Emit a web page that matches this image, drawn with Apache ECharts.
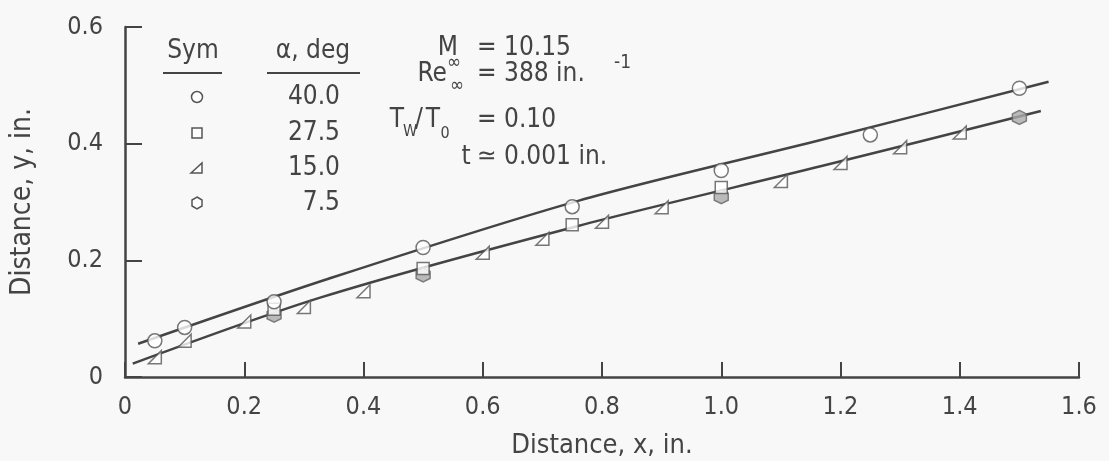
<!DOCTYPE html>
<html><head><meta charset="utf-8">
<script src="https://cdn.jsdelivr.net/npm/echarts@6/dist/echarts.min.js"></script>
<style>html,body{margin:0;padding:0;background:#f8f8f8}#c{width:1109px;height:461px}</style>
</head><body><div id="c"></div>
<script>
// ---- data ----
const circleX = [0.05, 0.1, 0.25, 0.5, 0.75, 1.0, 1.25, 1.5];
const circleY = [0.062, 0.085, 0.129, 0.222, 0.292, 0.354, 0.415, 0.495];
const squareX = [0.25, 0.5, 0.75, 1.0];
const squareY = [0.116, 0.186, 0.261, 0.325];
const triX = [0.05, 0.1, 0.2, 0.3, 0.4, 0.6, 0.7, 0.8, 0.9, 1.1, 1.2, 1.3, 1.4];
const triY = [0.034, 0.062, 0.095, 0.12, 0.147, 0.213, 0.237, 0.266, 0.291, 0.336, 0.367, 0.394, 0.419];
const hexX = [0.25, 0.5, 1.0, 1.5];
const hexY = [0.106, 0.175, 0.309, 0.445];
const upperX = [0.022, 0.34, 0.76, 1.17, 1.549];
const upperY = [0.057, 0.168, 0.302, 0.407, 0.506];
const lowerX = [0.013, 0.33, 0.76, 1.17, 1.536];
const lowerY = [0.023, 0.137, 0.259, 0.362, 0.456];
const alphaLabels = ['40.0', '27.5', '15.0', '7.5'];

const zip = (a, b) => a.map((v, i) => [v, b[i]]);
const FONT = '"DejaVu Sans Condensed","Liberation Sans Narrow","DejaVu Sans",sans-serif';
const INK = '#444';
const TRI = 'path://M0,10 L10,1 L10,10 Z';
const HEX = 'path://M5,0 L9.33,2.5 L9.33,7.5 L5,10 L0.67,7.5 L0.67,2.5 Z';
const fmt = v => v === 0 ? '0' : v.toFixed(1);

const chart = echarts.init(document.getElementById('c'));
const txt = (x, y, s, size, align) => ({
  type: 'text', x: x, y: y, z: 10,
  style: { text: s, font: size + 'px ' + FONT, fill: INK, textAlign: align || 'left', textVerticalAlign: 'middle' }
});

const legRows = [97, 133, 168, 203];
const symStyle = { fill: '#fff', stroke: '#555', lineWidth: 1.5 };
const graphics = [
  txt(193, 51, 'Sym', 26, 'center'),
  { type: 'line', shape: { x1: 163, y1: 73, x2: 222, y2: 73 }, style: { stroke: INK, lineWidth: 2 } },
  txt(313, 51, 'α, deg', 26, 'center'),
  { type: 'line', shape: { x1: 267, y1: 73, x2: 360, y2: 73 }, style: { stroke: INK, lineWidth: 2 } },
  { type: 'circle', shape: { cx: 197, cy: legRows[0], r: 5.5 }, style: symStyle },
  { type: 'rect', shape: { x: 192, y: legRows[1] - 5, width: 10, height: 10 }, style: symStyle },
  { type: 'polygon', shape: { points: [[191, legRows[2] + 5], [202, legRows[2] - 5], [202, legRows[2] + 5]] }, style: symStyle },
  { type: 'polygon', shape: { points: [[197, legRows[3] - 6], [202, legRows[3] - 3], [202, legRows[3] + 3], [197, legRows[3] + 6], [192, legRows[3] + 3], [192, legRows[3] - 3]] }, style: symStyle },
  // right-hand conditions
  txt(458, 48, 'M', 26, 'right'),
  txt(454, 63, '∞', 19, 'center'),
  txt(477, 48, '= 10.15', 26, 'left'),
  txt(447, 74, 'Re', 26, 'right'),
  txt(457, 86, '∞', 19, 'center'),
  txt(477, 74, '= 388 in.', 26, 'left'),
  txt(614, 63, '-1', 19, 'left'),
  txt(404, 120, 'T', 26, 'right'),
  txt(410, 132, 'W', 16, 'center'),
  txt(419, 120, '/', 26, 'center'),
  txt(440, 120, 'T', 26, 'right'),
  txt(445, 134, '0', 16, 'center'),
  txt(477, 120, '= 0.10', 26, 'left'),
  txt(466, 157, 't', 26, 'center'),
  txt(477, 157, '≃ 0.001 in.', 26, 'left')
];
alphaLabels.forEach((s, i) => graphics.push(txt(340, legRows[i], s, 26, 'right')));

chart.setOption({
  backgroundColor: '#f8f8f8',
  animation: false,
  grid: { left: 125, right: 30, top: 27, bottom: 84, outerBoundsMode: 'none', containLabel: false },
  xAxis: {
    type: 'value', min: 0, max: 1.6, interval: 0.2,
    name: 'Distance, x, in.', nameLocation: 'middle', nameGap: 55,
    nameTextStyle: { fontFamily: FONT, fontSize: 27, color: INK },
    axisLine: { lineStyle: { color: INK, width: 2.5 } },
    axisTick: { inside: true, length: 15, lineStyle: { color: INK, width: 2 } },
    axisLabel: { formatter: fmt, fontFamily: FONT, fontSize: 25, color: INK, margin: 18 },
    splitLine: { show: false }
  },
  yAxis: {
    type: 'value', min: 0, max: 0.6, interval: 0.2,
    name: 'Distance, y, in.', nameLocation: 'middle', nameGap: 88, nameRotate: 90,
    nameTextStyle: { fontFamily: FONT, fontSize: 28, color: INK },
    axisLine: { show: true, lineStyle: { color: INK, width: 2.5 } },
    axisTick: { show: true, inside: true, length: 17, lineStyle: { color: INK, width: 2 } },
    axisLabel: { formatter: fmt, fontFamily: FONT, fontSize: 25, color: INK, margin: 22 },
    splitLine: { show: false }
  },
  graphic: graphics,
  series: [
    { type: 'line', data: zip(upperX, upperY), smooth: 0.3, showSymbol: false, lineStyle: { color: INK, width: 2.5 }, z: 2 },
    { type: 'line', data: zip(lowerX, lowerY), smooth: 0.3, showSymbol: false, lineStyle: { color: INK, width: 2.5 }, z: 2 },
    { type: 'scatter', data: zip(hexX, hexY), symbol: HEX, symbolSize: 14, itemStyle: { color: '#aaa', borderColor: '#666', borderWidth: 1.5 }, z: 3 },
    { type: 'scatter', data: zip(triX, triY), symbol: TRI, symbolSize: 13, itemStyle: { color: '#fff', borderColor: '#555', borderWidth: 1.5 }, z: 4 },
    { type: 'scatter', data: zip(squareX, squareY), symbol: 'rect', symbolSize: 12, itemStyle: { color: '#fff', borderColor: '#555', borderWidth: 1.5 }, z: 4 },
    { type: 'scatter', data: zip(circleX, circleY), symbol: 'circle', symbolSize: 14, itemStyle: { color: '#fff', borderColor: '#555', borderWidth: 1.5 }, z: 5 }
  ]
});
</script></body></html>
